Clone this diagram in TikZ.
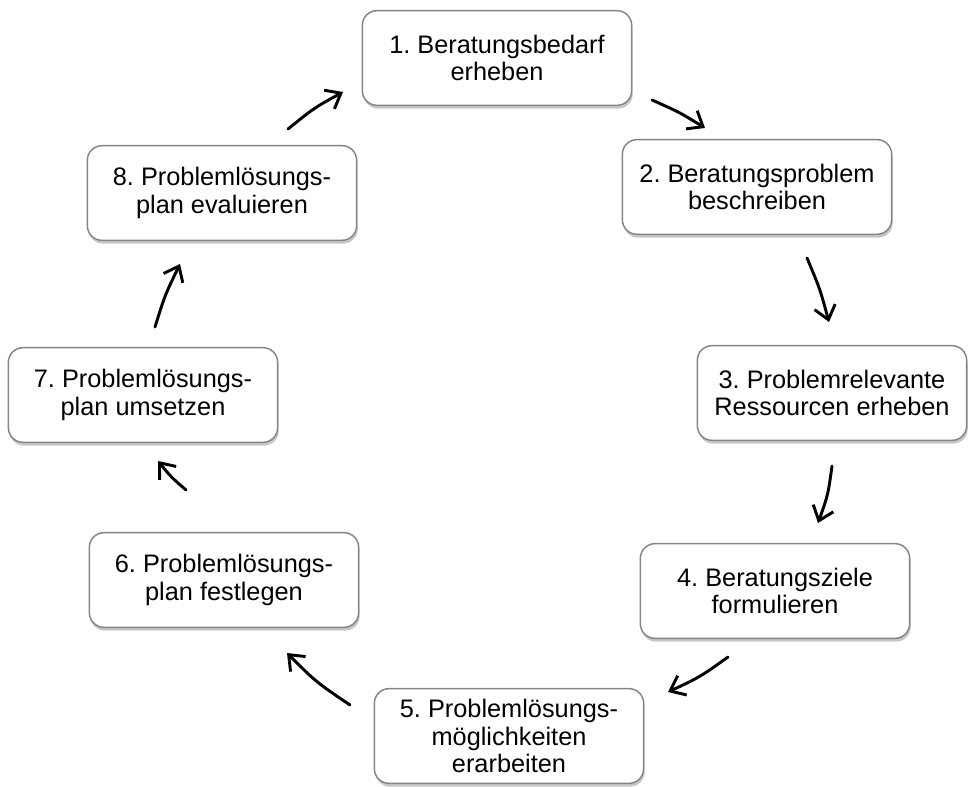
\documentclass[tikz,border=0pt]{standalone}
\usepackage{fontspec}
\setmainfont{Liberation Sans}
\usetikzlibrary{arrows.meta,shadows}
\frenchspacing
\tikzset{
  stepbox/.style={draw=black!48, line width=1.1pt, fill=white, rounded corners=11pt,
    minimum width=202pt, minimum height=71pt, align=center, inner sep=2pt,
    font=\fontsize{19}{20.8}\selectfont,
    drop shadow={shadow xshift=0.8pt, shadow yshift=-2.5pt, fill=black!40, opacity=0.55}},
  cyc/.style={draw=black, line width=2.2pt, line cap=round,
    -{Straight Barb[length=10pt, width=16pt, line width=2.2pt]}}
}
\begin{document}
\frenchspacing
\begin{tikzpicture}[x=0.75pt, y=-0.75pt]
\useasboundingbox (0,0) rectangle (969,787);
\node[stepbox] (b1) at (497,58) {1. Beratungsbedarf\\erheben};
\node[stepbox] (b2) at (757,187) {2. Beratungsproblem\\beschreiben};
\node[stepbox] (b3) at (832,393) {3. Problemrelevante\\Ressourcen erheben};
\node[stepbox] (b4) at (775,591) {4. Beratungsziele\\formulieren};
\node[stepbox] (b5) at (509,736) {5. Problemlösungs-\\möglichkeiten\\erarbeiten};
\node[stepbox] (b6) at (224,580) {6. Problemlösungs-\\plan festlegen};
\node[stepbox] (b7) at (143,395) {7. Problemlösungs-\\plan umsetzen};
\node[stepbox] (b8) at (222,193) {8. Problemlösungs-\\plan evaluieren};
% arrow end points
\coordinate (s12) at (652,100); \coordinate (e12) at (705,128);
\coordinate (s23) at (807,258); \coordinate (e23) at (829,322);
\coordinate (s34) at (832,466); \coordinate (e34) at (818,523);
\coordinate (s45) at (728,657); \coordinate (e45) at (668,692);
\coordinate (s56) at (350,705); \coordinate (e56) at (287,653);
\coordinate (s67) at (186,490); \coordinate (e67) at (158,461);
\coordinate (s78) at (155,327); \coordinate (e78) at (180,264);
\coordinate (s81) at (288,129); \coordinate (e81) at (343,92);
\draw[cyc] (s12) .. controls (679,112) .. (e12);
\draw[cyc] (s23) .. controls (820,289) .. (e23);
\draw[cyc] (s34) .. controls (828,495) .. (e34);
\draw[cyc] (s45) .. controls (700,677) .. (e45);
\draw[cyc] (s56) .. controls (316,682) .. (e56);
\draw[cyc] (s67) .. controls (171,477) .. (e67);
\draw[cyc] (s78) .. controls (165,295) .. (e78);
\draw[cyc] (s81) .. controls (314,108) .. (e81);
\end{tikzpicture}
\end{document}
